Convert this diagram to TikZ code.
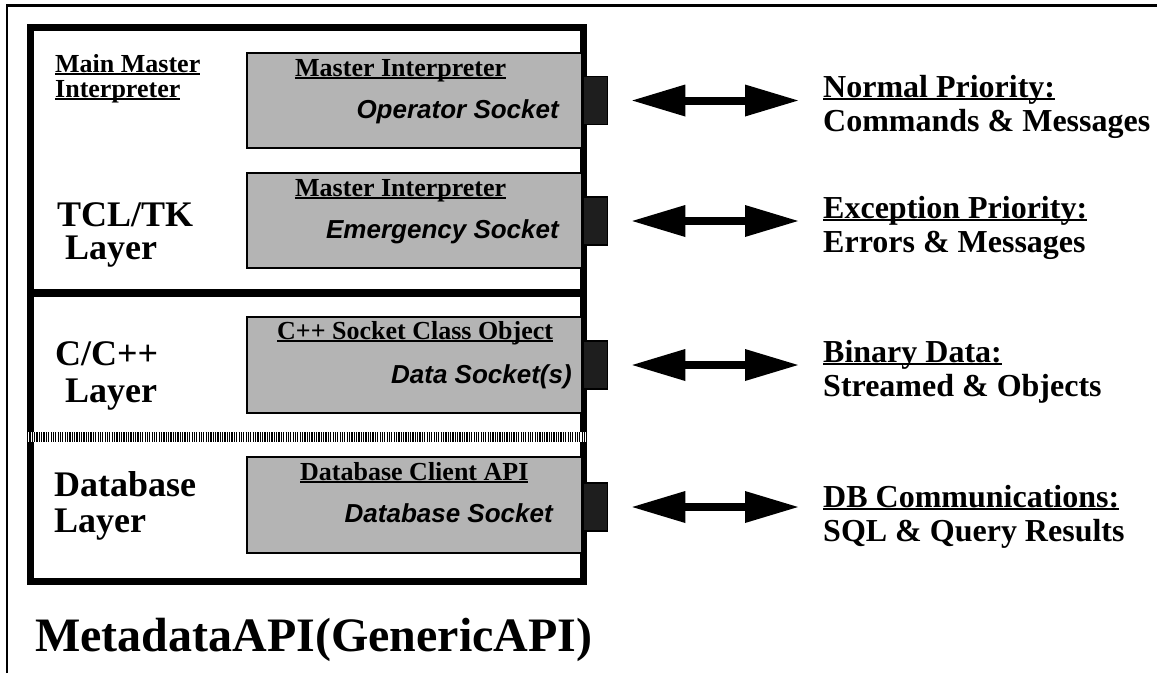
\documentclass[tikz,border=0pt]{standalone}
\usepackage{fontspec}
\setmainfont{Liberation Serif}
\newfontfamily\arialf{Liberation Sans}
\usetikzlibrary{arrows.meta,calc}
\definecolor{boxgray}{HTML}{B4B4B4}
\definecolor{tabdark}{HTML}{1E1E1E}
\newcommand\myul[1]{\leavevmode\setbox0\hbox{#1}\rlap{\rule[-3pt]{\wd0}{1.7pt}}\box0}
\tikzset{
  lbl/.style={anchor=base west,inner sep=0pt,font=\bfseries\fontsize{26}{28}\selectfont},
  biglbl/.style={anchor=base west,inner sep=0pt,font=\bfseries\fontsize{36}{38}\selectfont},
  rlbl/.style={anchor=base west,inner sep=0pt,font=\bfseries\fontsize{32}{34}\selectfont},
  sock/.style={anchor=base east,inner sep=0pt,font=\arialf\bfseries\itshape\fontsize{26}{28}\selectfont},
  graybox/.style={draw=black,line width=1.8pt,fill=boxgray,minimum width=335pt,inner sep=0pt},
  tabbox/.style={draw=black,line width=1.5pt,fill=tabdark,minimum width=24pt,minimum height=48pt,inner sep=0pt},
  dblarrow/.style={line width=8pt,{Triangle[length=53pt,width=32pt,line width=0pt]}-{Triangle[length=53pt,width=32pt,line width=0pt]}},
}
\begin{document}
\begin{tikzpicture}[x=1pt,y=-1pt]
\useasboundingbox (0,0) rectangle (1157,673);
% outer frame (top and left edges)
\draw[line width=2.3pt] (7,673) -- (7,5.5) -- (1157,5.5);
% main box
\draw[line width=7pt] (30.5,27.5) rectangle (583.5,581.5);
\draw[line width=8pt] (27,293) -- (587,293);
% gray boxes
\node[graybox,minimum height=95pt] (g1) at (414.5,100.5) {};
\node[graybox,minimum height=95pt] (g2) at (414.5,220.5) {};
\node[graybox,minimum height=96pt] (g3) at (414.5,365) {};
\node[graybox,minimum height=96pt] (g4) at (414.5,505) {};
% dotted separator
\draw[line width=10pt,white] (27,437) -- (586,437);
\draw[line width=10pt,dash pattern=on 1.2pt off 1.15pt] (27,437) -- (586,437);
% tabs
\node[tabbox] (t1) at (595.5,100.5) {};
\node[tabbox] (t2) at (595.5,221) {};
\node[tabbox] (t3) at (595.5,365) {};
\node[tabbox] (t4) at (595.5,507) {};
% left labels
\node[lbl] (mm1) at (55,72) {\myul{Main Master}};
\node[lbl] (mm2) at (55,97) {\myul{Interpreter}};
\node[biglbl] (tcl1) at (57,226) {TCL/TK};
\node[biglbl] (tcl2) at (65,259) {Layer};
\node[biglbl] (cc1) at (55,365) {C/C++};
\node[biglbl] (cc2) at (65,402) {Layer};
\node[biglbl] (db1) at (54,496) {Database};
\node[biglbl] (db2) at (54,532) {Layer};
% box texts
\node[lbl] (g1a) at (295,76) {\myul{Master Interpreter}};
\node[sock] (g1b) at (559,118) {Operator Socket};
\node[lbl] (g2a) at (295,196) {\myul{Master Interpreter}};
\node[sock] (g2b) at (559,238) {Emergency Socket};
\node[lbl] (g3a) at (277,339) {\myul{C++ Socket Class Object}};
\node[sock] (g3b) at (572,383) {Data Socket(s)};
\node[lbl] (g4a) at (300,480) {\myul{Database Client API}};
\node[sock] (g4b) at (553,522) {Database Socket};
% right labels
\node[rlbl] (r1a) at (823,97) {\myul{Normal Priority:}};
\node[rlbl] (r1b) at (823,131) {Commands \& Messages};
\node[rlbl] (r2a) at (823,218) {\myul{Exception Priority:}};
\node[rlbl] (r2b) at (823,252) {Errors \& Messages};
\node[rlbl] (r3a) at (823,362) {\myul{Binary Data:}};
\node[rlbl] (r3b) at (823,396) {Streamed \& Objects};
\node[rlbl] (r4a) at (823,507) {\myul{DB Communications:}};
\node[rlbl] (r4b) at (823,541) {SQL \& Query Results};
% arrows
\draw[dblarrow] ($(t1.east)+(24,0)$) -- ($(t1.east -| r1a.west)+(-25,0)$);
\draw[dblarrow] ($(t2.east)+(24,0)$) -- ($(t2.east -| r2a.west)+(-25,0)$);
\draw[dblarrow] ($(t3.east)+(24,0)$) -- ($(t3.east -| r3a.west)+(-25,0)$);
\draw[dblarrow] ($(t4.east)+(24,0)$) -- ($(t4.east -| r4a.west)+(-25,0)$);
% title
\node[anchor=base west,inner sep=0pt,font=\bfseries\fontsize{48}{50}\selectfont] (title) at (35,651) {MetadataAPI(GenericAPI)};
\end{tikzpicture}
\end{document}
